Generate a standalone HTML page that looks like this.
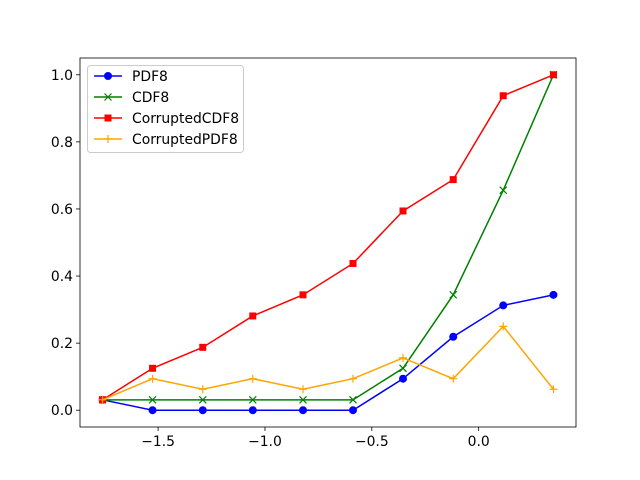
<!DOCTYPE html>
<html><head><meta charset="utf-8"><style>
html,body{margin:0;padding:0;background:#fff}
svg{display:block;font-family:"DejaVu Sans","Liberation Sans",sans-serif}
</style></head><body>
<svg id="chart" width="640" height="480"></svg>
<script>
const xValues=[-1.76,-1.526,-1.291,-1.057,-0.822,-0.588,-0.354,-0.119,0.115,0.35];
const pdf8=[0.031,0,0,0,0,0,0.094,0.219,0.3125,0.344];
const cdf8=[0.031,0.031,0.031,0.031,0.031,0.031,0.125,0.344,0.656,1.0];
const corruptedCdf8=[0.031,0.125,0.1875,0.281,0.344,0.4375,0.594,0.6875,0.9375,1.0];
const corruptedPdf8=[0.031,0.094,0.0625,0.094,0.0625,0.094,0.156,0.094,0.25,0.0625];
const xTicks=[-1.5,-1.0,-0.5,0.0];
const xTickLabels=["−1.5","−1.0","−0.5","0.0"];
const yTicks=[0,0.2,0.4,0.6,0.8,1.0];
const yTickLabels=["0.0","0.2","0.4","0.6","0.8","1.0"];
const seriesNames=["PDF8","CDF8","CorruptedCDF8","CorruptedPDF8"];

const L=80,R=576,T=58,B=427,FS=13.9;
const xmin=Math.min(...xValues),xmax=Math.max(...xValues);
const xpad=(xmax-xmin)*0.05;
const allY=[].concat(pdf8,cdf8,corruptedCdf8,corruptedPdf8);
const ymin=Math.min(...allY),ymax=Math.max(...allY),ypad=(ymax-ymin)*0.05;
const sx=v=>L+(v-(xmin-xpad))/((xmax+xpad)-(xmin-xpad))*(R-L);
const sy=v=>B-(v-(ymin-ypad))/((ymax+ypad)-(ymin-ypad))*(B-T);
const svg=document.getElementById('chart');
const NS='http://www.w3.org/2000/svg';
function mk(tag,attrs,parent){const e=document.createElementNS(NS,tag);for(const k in attrs)e.setAttribute(k,attrs[k]);(parent||svg).appendChild(e);return e;}

xTicks.forEach((t,i)=>{
  const g=mk('g',{});
  
  
  mk('line',{x1:sx(t),x2:sx(t),y1:B,y2:B+4,stroke:'#000','stroke-width':0.8},g);
  const tx=mk('text',{x:sx(t),y:B+19,'text-anchor':'middle','font-size':FS,fill:'#000'},g);
  tx.textContent=xTickLabels[i];
});
yTicks.forEach((t,i)=>{
  const g=mk('g',{});
  
  
  mk('line',{x1:L-4,x2:L,y1:sy(t),y2:sy(t),stroke:'#000','stroke-width':0.8},g);
  const tx=mk('text',{x:L-7,y:sy(t)+5,'text-anchor':'end','font-size':FS,fill:'#000'},g);
  tx.textContent=yTickLabels[i];
});

function marker(type,x,y,c,g){
  if(type==='o')mk('circle',{cx:x,cy:y,r:4,fill:c},g);
  else if(type==='s')mk('rect',{x:x-3.5,y:y-3.5,width:7,height:7,fill:c},g);
  else if(type==='x'){mk('path',{d:`M${x-3.5},${y-3.5}L${x+3.5},${y+3.5}M${x-3.5},${y+3.5}L${x+3.5},${y-3.5}`,stroke:c,'stroke-width':1.2},g);}
  else if(type==='+'){mk('path',{d:`M${x-4},${y}L${x+4},${y}M${x},${y-4}L${x},${y+4}`,stroke:c,'stroke-width':1.2},g);}
}
const series=[[pdf8,'#0000ff','o'],[cdf8,'#008000','x'],[corruptedCdf8,'#ff0000','s'],[corruptedPdf8,'#ffa500','+']];
series.forEach(([vals,c,m],si)=>{
  const g=mk('g',{});
  
  
  mk('polyline',{points:vals.map((v,i)=>sx(xValues[i])+','+sy(v)).join(' '),fill:'none',stroke:c,'stroke-width':1.5},g);
  vals.forEach((v,i)=>marker(m,sx(xValues[i]),sy(v),c,g));
});

const frame=mk('rect',{x:L,y:T,width:R-L,height:B-T,fill:'none',stroke:'#000','stroke-width':0.8});



const lg=mk('g',{});


mk('rect',{x:87.5,y:65.5,width:156,height:87,rx:3,fill:'#fff','fill-opacity':0.8,stroke:'#ccc'},lg);
series.forEach(([vals,c,m],i)=>{
  const y=76+i*21;
  const e=mk('g',{},lg);
  
  
  mk('line',{x1:94,x2:122,y1:y,y2:y,stroke:c,'stroke-width':1.5},e);
  marker(m,108,y,c,e);
  const t=mk('text',{x:132,y:y+5,'font-size':FS,fill:'#000'},e);
  t.textContent=seriesNames[i];
});
</script>
</body></html>
